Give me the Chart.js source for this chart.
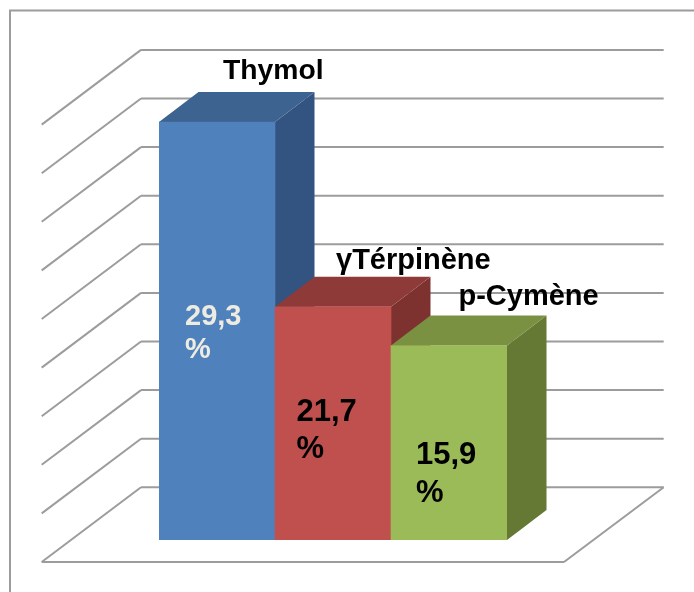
<!DOCTYPE html>
<html>
<head>
<meta charset="utf-8">
<style>
  html, body { margin: 0; padding: 0; background: #fff; }
  canvas { display: block; }
</style>
<script src="https://cdn.jsdelivr.net/npm/chart.js@4"></script>
</head>
<body>
<canvas id="mychart" width="694" height="592"></canvas>
<script>
const categories = ['Thymol', 'γTérpinène', 'p-Cymène'];
// bar heights as read against the gridlines (step 5), the printed labels differ
const barHeights = [43, 24, 20];
const valueLabels = ['29,3', '21,7', '15,9'];
const yTicks = [0, 5, 10, 15, 20, 25, 30, 35, 40, 45];

const frontColors = ['#4f81bd', '#c0504d', '#9bbb59'];
const topColors = ['#3d6390', '#8e3a39', '#7a9142'];
const sideColors = ['#335480', '#7e3230', '#657935'];
const valueColors = ['#eeece1', '#000', '#000'];

// offsets from each bar: name left/baseline, value left/baseline, second line baseline
const nameOffsets = [[64, -43], [61, -38], [67.5, -41]];
const valueOffsets = [[26, 202.5, 236], [21.5, 114, 151], [25, 118.5, 156]];
const nameSizes = [28.3, 29, 29];
const valueSizes = [29, 31, 31];

const fontFor = size => 'bold ' + size + 'px "Liberation Sans", Arial, sans-serif';
const gridColor = '#9c9c9c';

const line = (c, x1, y1, x2, y2) => {
    c.beginPath();
    c.moveTo(x1, y1);
    c.lineTo(x2, y2);
    c.stroke();
};

const poly = (c, pts, color) => {
    c.fillStyle = color;
    c.beginPath();
    pts.forEach((p, i) => (i ? c.lineTo(p[0], p[1]) : c.moveTo(p[0], p[1])));
    c.closePath();
    c.fill();
};

const box3d = {
    id: 'box3d',
    beforeDatasetsDraw(chart) {
        const c = chart.ctx;
        const y = chart.scales.y;
        const left = chart.chartArea.left;
        const right = chart.chartArea.right;
        const wallX = left - 18;     // back wall, left end
        const wallEnd = right + 156.7;
        const frontX = left - 117.3; // front of the floor
        const frontEnd = right + 57;
        const back = -52.7;
        const front = 22;

        c.save();
        c.strokeStyle = gridColor;
        c.lineWidth = 2;
        c.strokeRect(10, 10.5, 700, 600);

        yTicks.forEach(t => {
            const py = y.getPixelForValue(t);
            line(c, frontX, py + front, wallX, py + back);
            line(c, wallX, py + back, wallEnd, py + back);
        });
        const floor = y.getPixelForValue(0);
        line(c, frontX, floor + front, frontEnd, floor + front);
        line(c, frontEnd, floor + front, wallEnd, floor + back);

        // sides and tops go under the fronts, left to right
        const dx = 39.5;
        const dy = -30;
        chart.getDatasetMeta(0).data.forEach((bar, i) => {
            const l = bar.x - bar.width / 2;
            const r = bar.x + bar.width / 2;
            poly(c, [[r, bar.y], [r + dx, bar.y + dy], [r + dx, bar.base + dy], [r, bar.base]], sideColors[i]);
            poly(c, [[l, bar.y], [l + dx, bar.y + dy], [r + dx, bar.y + dy], [r, bar.y]], topColors[i]);
        });
        c.restore();
    },
    afterDatasetsDraw(chart) {
        const c = chart.ctx;
        c.save();
        c.textBaseline = 'alphabetic';
        c.textAlign = 'left';
        chart.getDatasetMeta(0).data.forEach((bar, i) => {
            const l = bar.x - bar.width / 2;
            c.font = fontFor(nameSizes[i]);
            c.fillStyle = '#000';
            c.fillText(categories[i], l + nameOffsets[i][0], bar.y + nameOffsets[i][1]);
            c.font = fontFor(valueSizes[i]);
            c.fillStyle = valueColors[i];
            c.fillText(valueLabels[i], l + valueOffsets[i][0], bar.y + valueOffsets[i][1]);
            c.fillText('%', l + valueOffsets[i][0], bar.y + valueOffsets[i][2]);
        });
        c.restore();
    }
};

const ctx = document.getElementById('mychart').getContext('2d');
let myChart = new Chart(ctx, {
    type: 'bar',
    data: {
        labels: categories,
        datasets: [
            {
                data: barHeights,
                backgroundColor: frontColors,
                borderWidth: 0,
                barPercentage: 1,
                categoryPercentage: 1
            }
        ]
    },
    options: {
        responsive: false,
        animation: false,
        layout: { padding: { left: 159, right: 187, top: 102.6, bottom: 52 } },
        plugins: { legend: { display: false }, tooltip: { enabled: false } },
        scales: {
            x: { display: false },
            y: { display: false, min: 0, max: 45, ticks: { stepSize: 5 } }
        }
    },
    plugins: [box3d]
});
</script>
</body>
</html>
